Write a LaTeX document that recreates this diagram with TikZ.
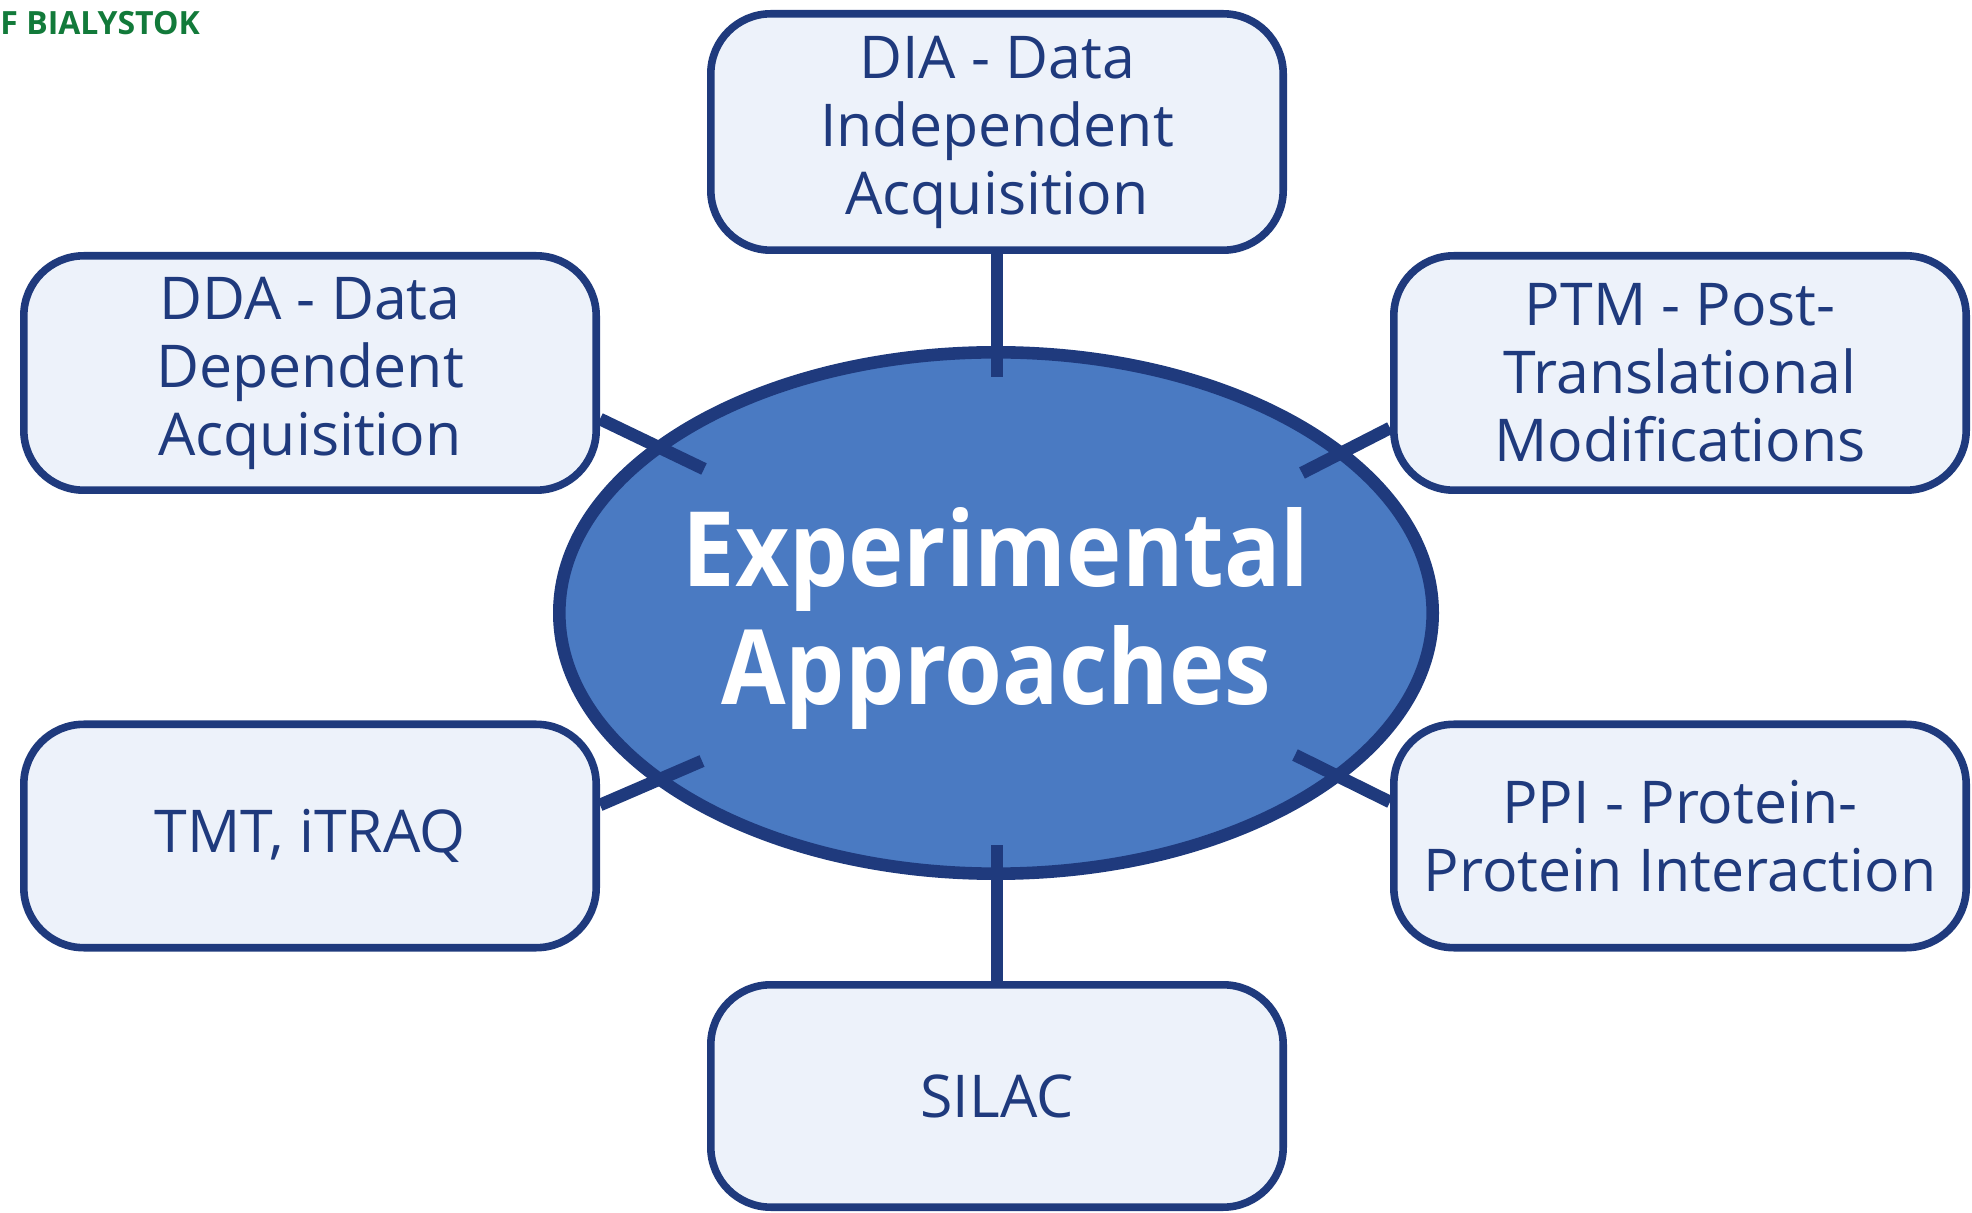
\documentclass[tikz,border=0pt]{standalone}
\usepackage{fontspec}
\setmainfont{Open Sans}
\newfontfamily\titlefont{Open Sans}[FakeStretch=0.9]
\usetikzlibrary{shapes.geometric}
\definecolor{navy}{HTML}{1F3A7D}
\definecolor{boxfill}{HTML}{EDF2FA}
\definecolor{ellfill}{HTML}{4A7AC2}
\definecolor{logogreen}{HTML}{127A3A}
\tikzset{
  box/.style={draw=navy, line width=3.8pt, fill=boxfill, rounded corners=30pt,
    minimum width=286.2pt, text=navy, align=center, inner sep=0pt,
    font=\fontsize{29.5}{34}\selectfont},
  conn/.style={draw=navy, line width=6.3pt},
}
\begin{document}
\begin{tikzpicture}[x=0.5pt,y=-0.5pt]
\useasboundingbox (0,0) rectangle (1972,1213);
\node[anchor=west, text=logogreen, font=\bfseries\fontsize{16}{16}\selectfont, inner sep=0pt] (logo) at (0,23) {F BIALYSTOK};
\node[ellipse, draw=navy, line width=6.3pt, fill=ellfill, minimum width=436.7pt, minimum height=260.7pt, inner sep=0pt] (center) at (996,613) {};
\node[text=white, align=center, font=\titlefont\bfseries\fontsize{52}{59}\selectfont] (title) at (996,618) {Experimental\\Approaches};
\node[box, minimum height=118.2pt] (dia) at (997,132) {DIA - Data\\Independent\\Acquisition};
\node[box, minimum height=117.2pt] (dda) at (310,373) {DDA - Data\\Dependent\\Acquisition};
\node[box, minimum height=117.2pt] (ptm) at (1680,373) {PTM - Post-\\Translational\\Modifications};
\node[box, minimum height=111.7pt] (tmt) at (310,836) {TMT, iTRAQ};
\node[box, minimum height=111.7pt] (ppi) at (1680,836) {PPI - Protein-\\Protein Interaction};
\node[box, minimum height=111.2pt] (silac) at (997,1096) {SILAC};
\coordinate (eDIA) at (997,377);
\coordinate (eSIL) at (997,845);
\coordinate (eDDA) at (704,469);
\coordinate (ePTM) at (1302,473);
\coordinate (eTMT) at (702,761);
\coordinate (ePPI) at (1295,755);
\draw[conn] (dia.south) -- (eDIA);
\draw[conn] (silac.north) -- (eSIL);
\draw[conn] (dda.east) ++(0,46) -- (eDDA);
\draw[conn] (ptm.west) ++(0,55) -- (ePTM);
\draw[conn] (tmt.east) ++(0,-31) -- (eTMT);
\draw[conn] (ppi.west) ++(0,-34) -- (ePPI);
\end{tikzpicture}
\end{document}
